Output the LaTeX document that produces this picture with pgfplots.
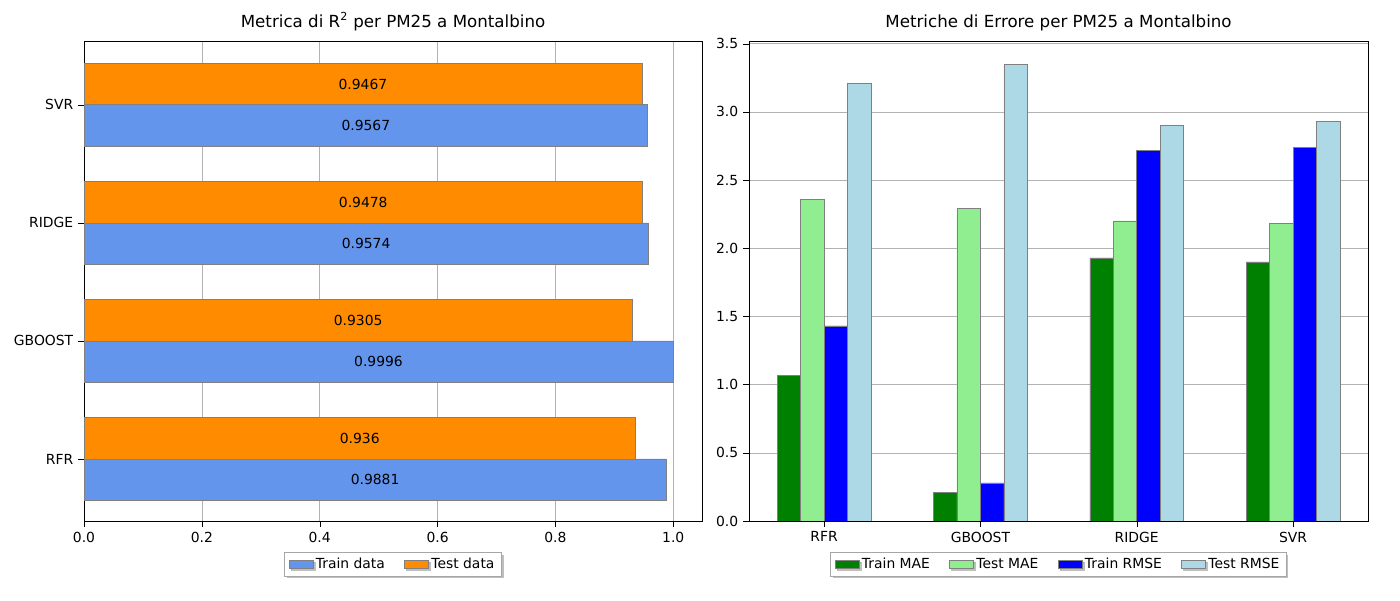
\documentclass[border=0pt]{standalone}
\usepackage{pgfplots}
\pgfplotsset{compat=1.18}
\usepackage{fontspec}
\setmainfont{DejaVu Sans}
\usetikzlibrary{shadows}
\definecolor{cfblue}{RGB}{100,149,237}
\definecolor{dorange}{RGB}{255,140,0}
\definecolor{mgreen}{RGB}{0,128,0}
\definecolor{lgreen}{RGB}{144,238,144}
\definecolor{lblue}{RGB}{173,216,230}
\begin{document}
\begin{tikzpicture}
\path[use as bounding box] (0pt,0pt) rectangle (1008pt,432pt);
\pgfplotsset{every axis/.append style={
  scale only axis, font=\fontsize{10}{12}\selectfont,
  /pgf/number format/assume math mode=true,
  tick align=outside, tick style={black},
  xtick pos=lower, ytick pos=left,
  grid style={gray!60},
  title style={font=\fontsize{12}{14}\selectfont, yshift=-2pt},
  legend style={draw=gray!70, drop shadow={shadow xshift=1.5pt,shadow yshift=-1.5pt}, font=\fontsize{10}{12}\selectfont, /tikz/every even column/.append style={column sep=12pt}},
  legend cell align=left,
}}
\begin{scope}[shift={(60.5pt,56.9pt)}]
\begin{axis}[anchor=south west, width=445pt, height=345.6pt,
  xmin=0, xmax=1.049, ymin=-0.525, ymax=3.54,
  xtick={0,0.2,0.4,0.6,0.8,1.0},
  xticklabel style={/pgf/number format/.cd,fixed,fixed zerofill,precision=1},
  ytick={0,1,2,3}, yticklabels={RFR,GBOOST,RIDGE,SVR},
  xmajorgrids,
  title={Metrica di R\textsuperscript{2} per PM25 a Montalbino},
  legend columns=2,
  legend style={at={(0.5,-0.065)}, anchor=north}]
\addplot[xbar, bar width=0.35, bar shift=0pt, fill=cfblue, draw=gray, area legend] coordinates {(0.9881,-0.175) (0.9996,0.825) (0.9574,1.825) (0.9567,2.825)};
\addplot[xbar, bar width=0.35, bar shift=0pt, fill=dorange, draw=gray, area legend] coordinates {(0.936,0.175) (0.9305,1.175) (0.9478,2.175) (0.9467,3.175)};
\legend{Train data, Test data}
\addplot[only marks, mark=none, nodes near coords, point meta=explicit symbolic, every node near coord/.append style={anchor=center}, forget plot] table[meta=l] {
x y l
0.49405 -0.175 0.9881
0.4998 0.825 0.9996
0.4787 1.825 0.9574
0.47835 2.825 0.9567
0.468 0.175 0.936
0.46525 1.175 0.9305
0.4739 2.175 0.9478
0.47335 3.175 0.9467
};
\end{axis}
\end{scope}
\begin{scope}[shift={(539.3pt,56.9pt)}]
\begin{axis}[anchor=south west, width=445.7pt, height=345.6pt,
  xmin=-0.48, xmax=3.48, ymin=0, ymax=3.52,
  xtick={0,1,2,3}, xticklabels={RFR,GBOOST,RIDGE,SVR},
  ytick={0,0.5,1,1.5,2,2.5,3,3.5},
  yticklabel style={/pgf/number format/.cd,fixed,fixed zerofill,precision=1},
  ymajorgrids,
  title={Metriche di Errore per PM25 a Montalbino},
  legend columns=4,
  legend style={at={(0.5,-0.065)}, anchor=north}]
\addplot[ybar, bar width=0.15, fill=mgreen, draw=gray, bar shift=-0.225, area legend] coordinates {(0,1.07) (1,0.21) (2,1.93) (3,1.90)};
\addplot[ybar, bar width=0.15, fill=lgreen, draw=gray, bar shift=-0.075, area legend] coordinates {(0,2.36) (1,2.29) (2,2.20) (3,2.18)};
\addplot[ybar, bar width=0.15, fill=blue, draw=gray, bar shift=0.075, area legend] coordinates {(0,1.43) (1,0.28) (2,2.72) (3,2.74)};
\addplot[ybar, bar width=0.15, fill=lblue, draw=gray, bar shift=0.225, area legend] coordinates {(0,3.21) (1,3.35) (2,2.90) (3,2.93)};
\legend{Train MAE, Test MAE, Train RMSE, Test RMSE}
\end{axis}
\end{scope}
\end{tikzpicture}
\end{document}
